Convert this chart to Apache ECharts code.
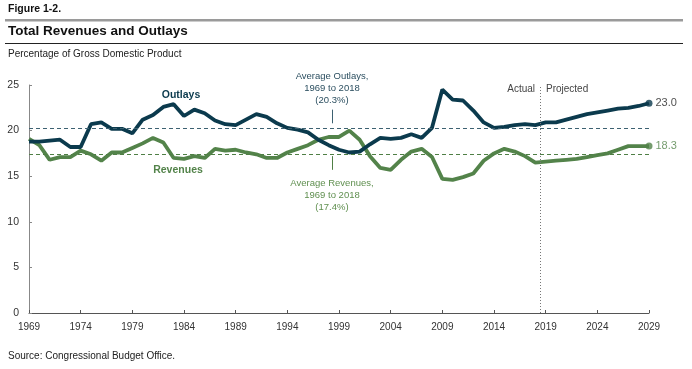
<!DOCTYPE html>
<html><head><meta charset="utf-8">
<script src="https://cdn.jsdelivr.net/npm/echarts@6/dist/echarts.min.js"></script>
<style>html,body{margin:0;padding:0;background:#fff}#c{width:692px;height:369px}</style>
</head><body><div id="c"></div>
<script>
var startYear = 1969;
var xTickLabels = ['1969','1974','1979','1984','1989','1994','1999','2004','2009','2014','2019','2024','2029'];
var yTickLabels = ['0','5','10','15','20','25'];
var outlays = [18.8,18.8,18.9,19.0,18.2,18.2,20.7,20.9,20.2,20.2,19.7,21.2,21.7,22.6,22.9,21.6,22.3,21.9,21.1,20.7,20.6,21.2,21.8,21.5,20.8,20.3,20.1,19.8,19.0,18.4,17.9,17.6,17.7,18.5,19.2,19.1,19.2,19.6,19.2,20.3,24.5,23.4,23.3,22.2,20.9,20.3,20.4,20.6,20.7,20.6,20.9,20.9,21.2,21.5,21.8,22.0,22.2,22.4,22.5,22.7,23.0];
var revenues = [19.1,18.4,16.8,17.1,17.1,17.8,17.4,16.7,17.6,17.6,18.1,18.6,19.2,18.7,17.0,16.9,17.2,17.0,18.0,17.8,17.9,17.6,17.4,17.0,17.0,17.6,18.0,18.4,19.0,19.3,19.3,20.0,19.0,17.2,15.9,15.7,16.8,17.7,18.0,17.1,14.7,14.6,14.9,15.3,16.7,17.5,18.0,17.7,17.2,16.5,16.6,16.7,16.8,16.9,17.1,17.3,17.5,17.9,18.3,18.3,18.3];
var avgOutlays = 20.3;
var avgRevenues = 17.4;
var actualEnd = 2018.5;

var navy = '#0b3a4d', green = '#53834a';
var FONT = '"Liberation Sans",Arial,sans-serif';
function pairs(arr){return arr.map(function(v,i){return [startYear+i,v];});}
var lastYear = startYear + outlays.length - 1;

var chart = echarts.init(document.getElementById('c'));
chart.setOption({
  animation:false,
  textStyle:{fontFamily:FONT},
  grid:{left:29,right:43,top:85,bottom:56},
  xAxis:{type:'value',min:1969,max:2029,interval:5,
    axisLine:{lineStyle:{color:'#555',width:1}},
    axisTick:{inside:true,length:3,lineStyle:{color:'#555'}},
    axisLabel:{color:'#333',fontSize:10,fontFamily:FONT,margin:9,formatter:function(v){return xTickLabels.indexOf(String(v))>=0?String(v):'';}},
    splitLine:{show:false}},
  yAxis:{type:'value',min:0,max:25,interval:5,
    axisLine:{show:true,lineStyle:{color:'#888',width:1}},
    axisTick:{show:true,inside:true,length:3,lineStyle:{color:'#888'}},
    axisLabel:{color:'#333',fontSize:10.5,fontFamily:FONT,margin:10,formatter:function(v){return yTickLabels.indexOf(String(v))>=0?String(v):'';}},
    splitLine:{show:false}},
  series:[
    {type:'line',data:pairs(outlays),showSymbol:false,lineStyle:{color:navy,width:3.8},z:4,
      markLine:{silent:true,symbol:'none',label:{show:false},data:[
        {yAxis:avgOutlays,lineStyle:{color:'#3d6171',type:[4,3],width:1}},
        {xAxis:actualEnd,lineStyle:{color:'#777',type:[1,2],width:1}},
        [{coord:[1998.3,22.3],lineStyle:{color:'#3d6171',type:'solid',width:1}},{coord:[1998.3,20.8]}]
      ]}},
    {type:'line',data:pairs(revenues),showSymbol:false,lineStyle:{color:green,width:3.8},z:3,
      markLine:{silent:true,symbol:'none',label:{show:false},data:[
        {yAxis:avgRevenues,lineStyle:{color:'#4f7f45',type:[4,3],width:1}},
        [{coord:[1998.3,17.2],lineStyle:{color:'#4f7f45',type:'solid',width:1}},{coord:[1998.3,15.7]}]
      ]}},
    {type:'scatter',symbolSize:7,z:5,data:[
      {value:[lastYear,outlays[outlays.length-1]],itemStyle:{color:navy},label:{show:true,position:'right',distance:3,color:'#222',fontSize:11,fontFamily:FONT,formatter:function(p){return p.value[1].toFixed(1);}}},
      {value:[lastYear,revenues[revenues.length-1]],itemStyle:{color:green},label:{show:true,position:'right',distance:3,color:green,fontSize:11,fontFamily:FONT,formatter:function(p){return p.value[1].toFixed(1);}}}
    ]}
  ],
  graphic:[
    {type:'text',left:8,top:4,style:{text:'Figure 1-2.',font:'bold 10.5px '+FONT,fill:'#111'}},
    {type:'rect',shape:{x:5,y:19,width:678,height:2.5},style:{fill:'#9a9a9a'}},
    {type:'text',left:8,top:24,style:{text:'Total Revenues and Outlays',font:'bold 13.5px '+FONT,fill:'#111'}},
    {type:'rect',shape:{x:5,y:43,width:678,height:1},style:{fill:'#222'}},
    {type:'text',left:8,top:49,style:{text:'Percentage of Gross Domestic Product',font:'10px '+FONT,fill:'#222'}},
    {type:'text',x:181,y:95,style:{text:'Outlays',font:'bold 10.5px '+FONT,fill:navy,align:'center',verticalAlign:'middle'}},
    {type:'text',x:178,y:170,style:{text:'Revenues',font:'bold 10.5px '+FONT,fill:green,align:'center',verticalAlign:'middle'}},
    {type:'text',x:332,y:88,style:{text:'Average Outlays,\n1969 to 2018\n(20.3%)',font:'9.5px '+FONT,fill:'#2c4f60',align:'center',verticalAlign:'middle',lineHeight:12}},
    {type:'text',x:332,y:195,style:{text:'Average Revenues,\n1969 to 2018\n(17.4%)',font:'9.5px '+FONT,fill:'#5f8f4f',align:'center',verticalAlign:'middle',lineHeight:12}},
    {type:'text',x:535,y:89,style:{text:'Actual',font:'10px '+FONT,fill:'#444',align:'right',verticalAlign:'middle'}},
    {type:'text',x:546,y:89,style:{text:'Projected',font:'10px '+FONT,fill:'#444',align:'left',verticalAlign:'middle'}},
    {type:'text',left:8,top:351,style:{text:'Source: Congressional Budget Office.',font:'10px '+FONT,fill:'#222'}}
  ]
});
</script></body></html>
